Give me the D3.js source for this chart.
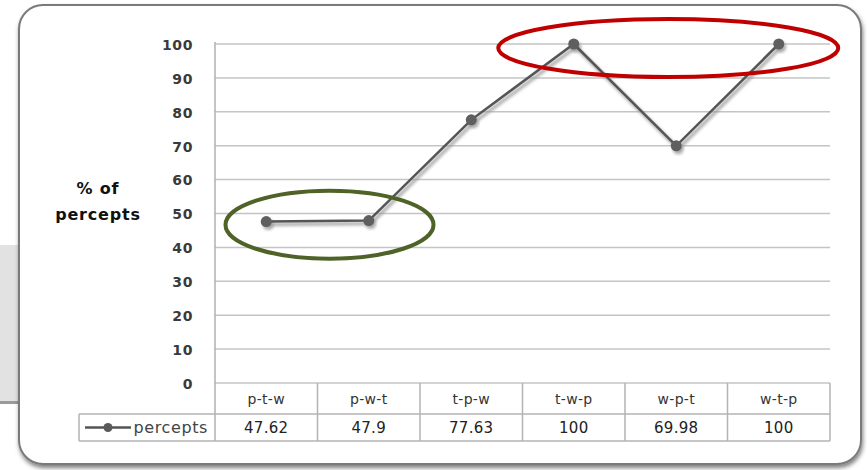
<!DOCTYPE html>
<html><head><meta charset="utf-8">
<script src="https://cdn.jsdelivr.net/npm/d3@7"></script>
<style>body{margin:0;background:#fff}svg{display:block}</style>
</head><body>
<script>
const categories = ["p-t-w","p-w-t","t-p-w","t-w-p","w-p-t","w-t-p"];
const values = [47.62, 47.9, 77.63, 100, 69.98, 100];
const valueLabels = ["47.62","47.9","77.63","100","69.98","100"];
const yTicks = [0,10,20,30,40,50,60,70,80,90,100];
const seriesName = "percepts";
const yTitle = ["% of","percepts"];

const W = 867, H = 470;
const FONT = "DejaVu Sans, Verdana, sans-serif";
const svg = d3.select("body").append("svg").attr("width", W).attr("height", H);
const defs = svg.append("defs");
const sh = defs.append("filter").attr("id","frameShadow").attr("x","-5%").attr("y","-5%").attr("width","110%").attr("height","115%");
sh.append("feDropShadow").attr("dx",1).attr("dy",3).attr("stdDeviation",2).attr("flood-color","#000").attr("flood-opacity",0.5);
const blur = defs.append("filter").attr("id","lineBlur").attr("x","-10%").attr("y","-10%").attr("width","120%").attr("height","120%");
blur.append("feGaussianBlur").attr("stdDeviation",1.5);

// gray panel behind at left
svg.append("rect").attr("x",0).attr("y",245).attr("width",30).attr("height",157).attr("fill","#e2e2e2");
svg.append("rect").attr("x",0).attr("y",401).attr("width",30).attr("height",3).attr("fill","#9a9a9a");

// frame
svg.append("rect").attr("x",19).attr("y",5).attr("width",842).attr("height",459)
  .attr("rx",24).attr("ry",24).attr("fill","#fff").attr("stroke","#7a7a7a").attr("stroke-width",2)
  .attr("filter","url(#frameShadow)");

const x = d3.scaleBand().domain(categories).range([215, 830]);
const y = d3.scaleLinear().domain([0,100]).range([383, 44]);

// gridlines
svg.append("g").selectAll("line").data(yTicks).join("line")
  .attr("x1",215).attr("x2",830).attr("y1",d=>y(d)).attr("y2",d=>y(d))
  .attr("stroke","#c4c4c4").attr("stroke-width",1.5);

// y axis via d3
const yAxis = d3.axisLeft(y).tickValues(yTicks).tickSize(0).tickPadding(22);
const ya = svg.append("g").attr("transform","translate(215,0)").call(yAxis);
ya.select(".domain").remove();
ya.selectAll("text").attr("font-family",FONT).attr("font-weight","bold")
  .attr("font-size",14).attr("letter-spacing",0.6).attr("fill","#3a3a3a").attr("dy","0.38em");

// vertical axis line
svg.append("line").attr("x1",215).attr("x2",215).attr("y1",y(100)-2).attr("y2",441).attr("stroke","#b0b0b0").attr("stroke-width",1.5);

// y title
svg.append("g").selectAll("text").data(yTitle).join("text")
  .attr("x",98).attr("y",(d,i)=>194+i*26).attr("text-anchor","middle")
  .attr("font-family",FONT).attr("font-weight","bold").attr("letter-spacing",0.8)
  .attr("font-size",16).attr("fill","#111").text(d=>d);

// data table
const tCol = "#b3b3b3";
const t = svg.append("g");
t.append("line").attr("x1",215).attr("x2",830).attr("y1",414).attr("y2",414).attr("stroke",tCol).attr("stroke-width",1.5);
t.append("line").attr("x1",79).attr("x2",830).attr("y1",441).attr("y2",441).attr("stroke",tCol).attr("stroke-width",1.5);
t.append("line").attr("x1",79).attr("x2",215).attr("y1",414).attr("y2",414).attr("stroke",tCol).attr("stroke-width",1.5);
t.append("line").attr("x1",79).attr("x2",79).attr("y1",414).attr("y2",441).attr("stroke",tCol).attr("stroke-width",1.5);
t.selectAll("line.col").data(categories).join("line").attr("class","col")
  .attr("x1",d=>x(d)+x.bandwidth()).attr("x2",d=>x(d)+x.bandwidth()).attr("y1",383).attr("y2",441)
  .attr("stroke",tCol).attr("stroke-width",1.5);
t.selectAll("text.cat").data(categories).join("text").attr("class","cat")
  .attr("x",d=>x(d)+x.bandwidth()/2).attr("y",404).attr("text-anchor","middle")
  .attr("font-family",FONT).attr("font-size",14).attr("letter-spacing",0.3).attr("fill","#333").text(d=>d);
t.selectAll("text.val").data(categories).join("text").attr("class","val")
  .attr("x",d=>x(d)+x.bandwidth()/2).attr("y",433).attr("text-anchor","middle")
  .attr("font-family",FONT).attr("font-size",15).attr("letter-spacing",0.3).attr("fill","#222")
  .text((d,i)=>valueLabels[i]);

// legend key in table
const lg = t.append("g");
lg.append("line").attr("x1",85).attr("x2",131).attr("y1",427.5).attr("y2",427.5).attr("stroke","#555").attr("stroke-width",2.5);
lg.append("circle").attr("cx",108).attr("cy",427.5).attr("r",4.5).attr("fill","#5a5a5a");
lg.append("text").attr("x",208).attr("y",433).attr("text-anchor","end")
  .attr("font-family",FONT).attr("font-size",16).attr("letter-spacing",0.6).attr("fill","#444").text(seriesName);

// series line
const pts = categories.map((c,i)=>[x(c)+x.bandwidth()/2, y(values[i])]);
const line = d3.line();
svg.append("path").attr("d",line(pts)).attr("transform","translate(2,3)").attr("fill","none")
  .attr("stroke","#9a9a9a").attr("stroke-width",3.5).attr("filter","url(#lineBlur)").attr("opacity",0.8);
svg.append("g").attr("transform","translate(2,3)").selectAll("circle").data(pts).join("circle")
  .attr("cx",d=>d[0]).attr("cy",d=>d[1]).attr("r",5.5).attr("fill","#9a9a9a").attr("filter","url(#lineBlur)").attr("opacity",0.8);
svg.append("path").attr("d",line(pts)).attr("fill","none").attr("stroke","#555").attr("stroke-width",2.5);
svg.append("g").selectAll("circle").data(pts).join("circle")
  .attr("cx",d=>d[0]).attr("cy",d=>d[1]).attr("r",5.5).attr("fill","#5f5f5f");

// annotation ellipses
const gx = (x(categories[0]) + x(categories[1]) + x.bandwidth())/2 + 12;
svg.append("ellipse").attr("cx",gx).attr("cy",y(46.7)).attr("rx",104).attr("ry",34)
  .attr("fill","none").attr("stroke","#4f6228").attr("stroke-width",4);
const rx0 = (x(categories[3]) + x(categories[5]) + x.bandwidth())/2 - 8;
svg.append("ellipse").attr("cx",rx0).attr("cy",y(98.8)).attr("rx",170).attr("ry",29)
  .attr("fill","none").attr("stroke","#c00000").attr("stroke-width",4);
</script>
</body></html>
